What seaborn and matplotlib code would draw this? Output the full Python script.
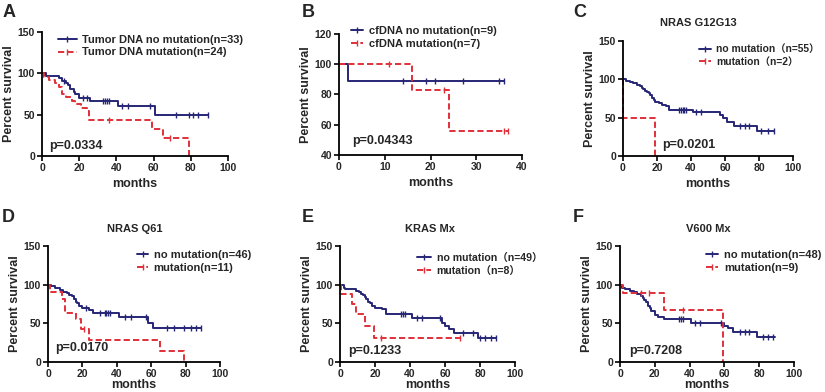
import numpy as np
import pandas as pd
import matplotlib
matplotlib.use("Agg")
import matplotlib.pyplot as plt
from matplotlib.lines import Line2D
import seaborn as sns

# ---------------- data ----------------
# Panel A
a_no_t = [0, 2, 9, 11, 13, 14, 15, 17, 18, 20, 26, 41, 61]
a_no_s = [100, 97, 94, 91, 88, 86, 81, 78, 75, 70, 66, 60, 50]
a_no_c = [12, 22, 24, 33, 34, 35, 36, 43, 46, 58, 72, 79, 81, 84, 89]
a_no_end = 89
a_mu_t = [0, 1, 4, 7, 9, 11, 13, 16, 18, 21, 24, 25, 59, 65, 79]
a_mu_s = [100, 96, 92, 88, 83, 75, 71, 67, 63, 58, 54, 44, 33, 22, 0]
a_mu_c = [36, 69]
a_mu_end = 79

# Panel B
b_no_t = [0, 2]
b_no_s = [100, 88.9]
b_no_c = [14, 19, 21, 27, 35, 36]
b_no_end = 36
b_mu_t = [0, 16, 24]
b_mu_s = [100, 83.3, 55.6]
b_mu_c = [11, 23, 36, 37]
b_mu_end = 37

# Panel C
c_no_t = [0, 2, 4, 6, 8, 10, 11, 12, 13, 14, 15, 16, 17, 18, 19, 21, 23, 25, 27, 41, 57, 59, 61, 65, 79]
c_no_s = [100, 98, 96, 95, 93, 91, 89, 87, 85, 84, 82, 80, 76, 73, 71, 69, 67, 65, 60, 57, 53, 49, 45, 39, 32]
c_no_c = [33, 34, 35, 36, 37, 43, 46, 69, 72, 74, 81, 85, 89]
c_no_end = 89
c_mu_t = [0, 0.2, 19]
c_mu_s = [100, 50, 0]
c_mu_c = []
c_mu_end = 19

# Panel D
d_no_t = [0, 2, 4, 7, 9, 11, 12, 14, 15, 16, 17, 18, 20, 24, 26, 41, 58, 61]
d_no_s = [100, 98, 96, 93, 91, 89, 87, 85, 82, 78, 76, 73, 70, 67, 63, 58, 51, 44]
d_no_c = [22, 30, 33, 34, 35, 36, 45, 48, 57, 69, 73, 79, 83, 86, 89]
d_no_end = 89
d_mu_t = [0, 1, 8, 10, 16, 19, 24, 65, 79]
d_mu_s = [100, 91, 82, 64, 55, 43, 29, 14, 0]
d_mu_c = [21]
d_mu_end = 79

# Panel E
e_no_t = [0, 2, 3, 9, 11, 12, 13, 14, 15, 16, 17, 18, 20, 24, 26, 41, 58, 60, 62, 65, 79]
e_no_s = [100, 96, 94, 92, 90, 88, 86, 84, 82, 78, 76, 73, 70, 68, 62, 57, 50, 46, 43, 37, 31]
e_no_c = [35, 36, 37, 44, 47, 57, 70, 76, 80, 83, 86, 89]
e_no_end = 89
e_mu_t = [0, 0.5, 6.7, 9, 14, 19.6]
e_mu_s = [100, 87.5, 75, 62.5, 47, 31]
e_mu_c = [23.5, 68.6]
e_mu_end = 68.6

# Panel F
f_no_t = [0, 1, 3, 6, 8, 10, 12, 13, 14, 15, 16, 17, 18, 20, 22, 25, 41, 60, 62, 65, 79]
f_no_s = [100, 96, 94, 92, 90, 88, 85, 83, 80, 77, 73, 70, 66, 61, 58, 55, 51, 47, 44, 39, 32]
f_no_c = [34, 35, 36, 43, 46, 58, 69, 72, 74, 82, 85, 88]
f_no_end = 89
f_mu_t = [0, 1.5, 25, 59]
f_mu_s = [100, 89, 67, 0]
f_mu_c = [12, 16.5, 36]
f_mu_end = 59

letters = ["A", "B", "C", "D", "E", "F"]
titles = ["", "", "NRAS G12G13", "NRAS Q61", "KRAS Mx", "V600 Mx"]
legend_labels = [
    ["Tumor DNA no mutation(n=33)", "Tumor DNA mutation(n=24)"],
    ["cfDNA no mutation(n=9)", "cfDNA mutation(n=7)"],
    ["no mutation\uff08n=55\uff09", "mutation\uff08n=2\uff09"],
    ["no mutation(n=46)", "mutation(n=11)"],
    ["no mutation\uff08n=49\uff09", "mutation\uff08n=8\uff09"],
    ["no mutation(n=48)", "mutation(n=9)"],
]
p_values = ["p=0.0334", "p=0.04343", "p=0.0201", "p=0.0170", "p=0.1233", "p=0.7208"]
x_ticks_100 = [0, 20, 40, 60, 80, 100]
y_ticks_150 = [0, 50, 100, 150]
x_ticks_40 = [0, 10, 20, 30, 40]
y_ticks_120 = [40, 60, 80, 100, 120]

# ---------------- style ----------------
sns.set_style("ticks")
plt.rcParams["font.family"] = ["Liberation Sans", "Noto Sans CJK SC", "DejaVu Sans"]
plt.rcParams["font.weight"] = "bold"
plt.rcParams["axes.labelweight"] = "bold"

BLUE = "#262676"
RED = "#e0303a"
DASH = (0, (3.2, 1.6))

W, H = 825, 392
fig = plt.figure(figsize=(W / 100, H / 100), dpi=100)
fig.patch.set_facecolor("white")


def px_axes(x0, y0, x1, y1):
    return fig.add_axes([x0 / W, 1 - y1 / H, (x1 - x0) / W, (y1 - y0) / H])


def draw_group(ax, times, surv, cens, end, color, ls):
    t = list(times)
    s = list(surv)
    if end > t[-1]:
        t.append(end)
        s.append(s[-1])
    df = pd.DataFrame({"months": t, "survival": s})
    sns.lineplot(data=df, x="months", y="survival", ax=ax, color=color,
                 linestyle=ls, drawstyle="steps-post", estimator=None,
                 sort=False, linewidth=1.4, clip_on=False)
    if len(cens):
        idx = np.searchsorted(np.asarray(times), np.asarray(cens), side="right") - 1
        cy = np.asarray(surv, dtype=float)[idx]
        sns.scatterplot(x=cens, y=cy, ax=ax, marker="|", s=22, color=color,
                        linewidth=1.0, clip_on=False, zorder=3)


panels = [
    dict(rect=(42, 32, 228, 156), xt=x_ticks_100, yt=y_ticks_150,
         no=(a_no_t, a_no_s, a_no_c, a_no_end), mu=(a_mu_t, a_mu_s, a_mu_c, a_mu_end),
         leg=(58, 46, 1.7, 8), p=(3.8, 12), letter=(3, 4), title=None, xlp=3.5),
    dict(rect=(339, 34, 522, 155), xt=x_ticks_40, yt=y_ticks_120,
         no=(b_no_t, b_no_s, b_no_c, b_no_end), mu=(b_mu_t, b_mu_s, b_mu_c, b_mu_end),
         leg=(351, 37.5, 1.1, 8), p=(2.8, 49), letter=(302, 4), title=None, xlp=3.5),
    dict(rect=(623, 41, 793, 156), xt=x_ticks_100, yt=y_ticks_150,
         no=(c_no_t, c_no_s, c_no_c, c_no_end), mu=(c_mu_t, c_mu_s, c_mu_c, c_mu_end),
         leg=(699, 55.5, 1.2, 7.4), p=(23, 14), letter=(573, 4), title=(698, 23), xlp=3.5),
    dict(rect=(48, 246, 220, 362), xt=x_ticks_100, yt=y_ticks_150,
         no=(d_no_t, d_no_s, d_no_c, d_no_end), mu=(d_mu_t, d_mu_s, d_mu_c, d_mu_end),
         leg=(137, 261.5, 1.0, 8), p=(4, 18), letter=(2, 209), title=(135, 229), xlp=0),
    dict(rect=(340, 246, 515, 362), xt=x_ticks_100, yt=y_ticks_150,
         no=(e_no_t, e_no_s, e_no_c, e_no_end), mu=(e_mu_t, e_mu_s, e_mu_c, e_mu_end),
         leg=(417, 264.5, 1.35, 7.6), p=(4.6, 14), letter=(302, 209), title=(430, 229), xlp=0),
    dict(rect=(620, 246, 794, 362), xt=x_ticks_100, yt=y_ticks_150,
         no=(f_no_t, f_no_s, f_no_c, f_no_end), mu=(f_mu_t, f_mu_s, f_mu_c, f_mu_end),
         leg=(706, 261.5, 1.1, 8), p=(5, 14), letter=(573, 209), title=(708, 229), xlp=0),
]

for i, P in enumerate(panels):
    ax = px_axes(*P["rect"])
    draw_group(ax, *P["no"], BLUE, "-")
    draw_group(ax, *P["mu"], RED, DASH)
    ax.set_xlim(P["xt"][0], P["xt"][-1])
    ax.set_ylim(P["yt"][0], P["yt"][-1])
    ax.set_xticks(P["xt"])
    ax.set_yticks(P["yt"])
    ax.set_xlabel("months", fontsize=9, labelpad=P["xlp"])
    ax.set_ylabel("Percent survival", fontsize=9, labelpad=2)
    ax.tick_params(direction="out", length=3.5, width=1.2, labelsize=7.5, pad=1.5, color="black")
    for lab in ax.get_xticklabels() + ax.get_yticklabels():
        lab.set_fontweight("bold")
    sns.despine(ax=ax)
    for sp in ("left", "bottom"):
        ax.spines[sp].set_linewidth(1.3)
        ax.spines[sp].set_color("black")
    ax.set_facecolor("white")

    handles = [
        Line2D([], [], color=BLUE, lw=1.4, marker="|", markersize=5, markeredgewidth=1.0),
        Line2D([], [], color=RED, lw=1.4, ls=DASH, marker="|", markersize=5, markeredgewidth=1.0),
    ]
    lx, ly, hl, lfs = P["leg"]
    ax.legend(handles, legend_labels[i], loc="center left",
              bbox_to_anchor=(lx / W, 1 - ly / H), bbox_transform=fig.transFigure,
              frameon=False, fontsize=lfs, handlelength=hl, handletextpad=0.5,
              labelspacing=0.25, borderpad=0, borderaxespad=0)

    ax.text(P["p"][0], P["p"][1], p_values[i], fontsize=9, fontweight="bold",
            ha="left", va="center")

    fig.text(P["letter"][0] / W, 1 - P["letter"][1] / H, letters[i],
             fontsize=13, fontweight="bold", ha="left", va="top")
    if P["title"] is not None:
        fig.text(P["title"][0] / W, 1 - P["title"][1] / H, titles[i],
                 fontsize=8, fontweight="bold", ha="center", va="center")

fig.savefig("out.png", dpi=100, facecolor="white")
